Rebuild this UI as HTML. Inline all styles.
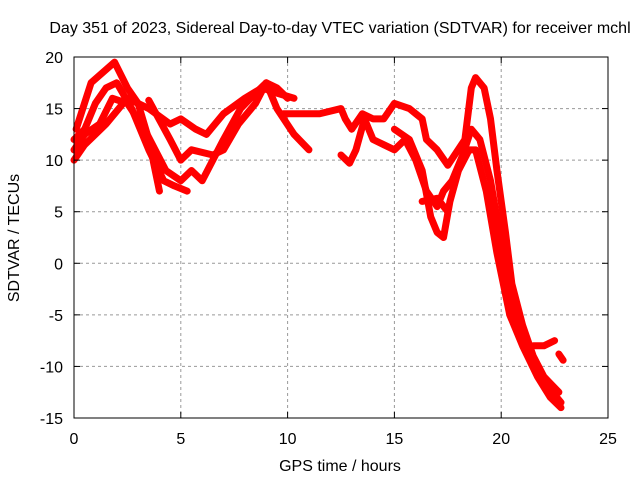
<!DOCTYPE html>
<html><head><meta charset="utf-8"><style>
body{margin:0;background:#fff}
svg text{font-family:"Liberation Sans",sans-serif;font-size:16px;fill:#000}
</style></head><body>
<svg width="640" height="480">
<g id="grid"></g>
<g id="series"></g>
<rect x="74" y="57" width="534" height="361" fill="none" stroke="#000" stroke-width="1"/>
<g id="ticks"></g>
<text x="340" y="33" text-anchor="middle">Day 351 of 2023, Sidereal Day-to-day VTEC variation (SDTVAR) for receiver mchl</text>
<text x="340" y="471" text-anchor="middle">GPS time / hours</text>
<text transform="translate(19,238) rotate(-90)" text-anchor="middle">SDTVAR / TECUs</text>
</svg>
<script>
const xTicks=[0,5,10,15,20,25];
const yTicks=[-15,-10,-5,0,5,10,15,20];
const trackA=[[0.1,13],[0.8,17.5],[1.9,19.5],[2.5,17],[3,15.5],[3.5,12],[4,7]];
const trackB=[[0,12],[0.5,13],[1,15.5],[1.5,17],[2,17.5],[2.7,15],[3.5,11],[4.2,8],[4.7,7.5],[5.3,7]];
const trackC=[[0,11],[0.5,12.5],[1.2,13.5],[1.8,16],[2.5,15.5],[3.3,13],[4.3,9],[5,8],[5.5,9],[6,8],[7,12],[7.8,15],[8.5,16.5],[9,17.5],[9.5,15],[10.3,12.5],[11,11]];
const trackD=[[0,10],[0.5,11.5],[1.5,13.5],[2.5,16],[3.5,15],[4.5,13.5],[5,14],[5.7,13],[6.2,12.5],[7,14.5],[8,16],[8.8,17],[9.5,16.5],[10.3,16]];
const trackE=[[3.5,15.8],[4.5,12],[5,10],[5.5,11],[6.5,10.5],[7,11],[7.7,13.5],[8.5,15.5],[9,17.5],[9.5,17],[10,16]];
const trackF=[[9.8,14.5],[10.5,14.5],[11.5,14.5],[12.5,15],[12.7,14],[13,13],[13.5,14.5],[14,14],[14.5,14],[15,15.5],[15.7,15],[16.3,14],[16.5,12],[17,11],[17.5,9.5],[18.3,12],[18.6,17],[18.8,18],[19.2,17],[19.5,14],[19.8,9],[20.2,3],[20.5,-2],[21,-6],[21.5,-9],[22,-11],[22.7,-12.5]];
const trackG=[[12.5,10.5],[12.9,9.7],[13.2,11],[13.6,14],[14,12],[14.5,11.5],[15,11],[15.5,12],[16,10],[16.5,7],[17,5.5],[17.3,7],[17.7,8],[18.2,10.5],[18.6,13],[19,12],[19.5,8],[20,2],[20.5,-4],[21,-7.5],[21.5,-9.5],[22,-11.5],[22.8,-13.5]];
const trackH=[[15,13],[15.7,12],[16.3,9],[16.7,4.5],[17,3],[17.3,2.5],[17.6,6],[18,9],[18.5,11],[18.8,11],[19.3,7],[19.8,1],[20.4,-5],[21,-8],[21.7,-11],[22.3,-13],[22.8,-14]];
const trackI=[[16.3,6],[17,6.3],[17.5,5]];
const trackJ=[[21.5,-8],[22,-8],[22.5,-7.5]];
const trackK=[[22.7,-8.8],[22.9,-9.4]];
const tracks=[trackA,trackB,trackC,trackD,trackE,trackF,trackG,trackH,trackI,trackJ,trackK];
const X=v=>74+v*534/25, Y=v=>418-(v+15)*361/35;
const NS="http://www.w3.org/2000/svg";
const grid=document.getElementById('grid'),ticks=document.getElementById('ticks'),ser=document.getElementById('series');
function mk(tag,at,par){const e=document.createElementNS(NS,tag);for(const k in at)e.setAttribute(k,at[k]);par.appendChild(e);return e;}
xTicks.forEach(t=>{const x=X(t);
 if(t>0&&t<25){const g=mk('line',{x1:x,x2:x,y1:57,y2:418,stroke:'#999','stroke-dasharray':'3,3'},grid);
 
 }
 const l=mk('line',{x1:x,x2:x,y1:418,y2:412,stroke:'#000'},ticks);
 
 
 const l2=mk('line',{x1:x,x2:x,y1:57,y2:63,stroke:'#000'},ticks);
 
 
 const tx=mk('text',{x:x,y:444,'text-anchor':'middle'},ticks);tx.textContent=t;
 
 });
yTicks.forEach(t=>{const y=Y(t);
 if(t>-15&&t<20){const g=mk('line',{x1:74,x2:608,y1:y,y2:y,stroke:'#999','stroke-dasharray':'3,3'},grid);
 
 }
 const l=mk('line',{x1:74,x2:80,y1:y,y2:y,stroke:'#000'},ticks);
 
 
 const l2=mk('line',{x1:608,x2:602,y1:y,y2:y,stroke:'#000'},ticks);
 
 
 const tx=mk('text',{x:63,y:y+6,'text-anchor':'end'},ticks);tx.textContent=t;
 
 });
tracks.forEach(tr=>{const p=mk('polyline',{points:tr.map(d=>X(d[0])+','+Y(d[1])).join(' '),fill:'none',stroke:'#f00','stroke-width':7,'stroke-linejoin':'round','stroke-linecap':'round'},ser);
 
 });
</script>
</body></html>
